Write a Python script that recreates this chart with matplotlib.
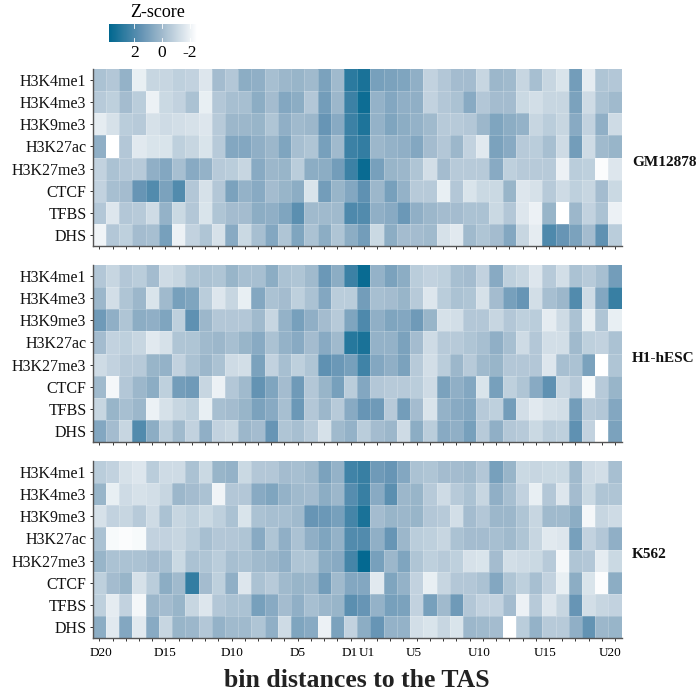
import numpy as np
import matplotlib
matplotlib.use("Agg")
import matplotlib.pyplot as plt
from matplotlib.colors import LinearSegmentedColormap, Normalize
from matplotlib.cm import ScalarMappable
from matplotlib.transforms import ScaledTranslation

plt.rcParams["font.family"] = ["Liberation Serif", "DejaVu Serif"]

marks = ["H3K4me1", "H3K4me3", "H3K9me3", "H3K27ac", "H3K27me3", "CTCF", "TFBS", "DHS"]
cell_lines = ["GM12878", "H1-hESC", "K562"]
bin_labels = ["D20", "D15", "D10", "D5", "D1", "U1", "U5", "U10", "U15", "U20"]
bin_label_cols = [0, 5, 10, 15, 19, 20, 24, 29, 34, 39]

gm12878 = [
    [-.3,-.5,.3,-1.9,-1.0,-1.0,-.8,-.9,-1.6,-.1,-.5,.5,.4,-.2,.1,.2,0,.9,0,2.8,
     3.2,1.0,.9,.8,.4,-.9,-.5,-.1,-.1,-1.0,.1,0,-1.0,-.2,-1.0,-1.5,1.1,-1.8,-.4,-.5],
    [-.6,-.8,-.1,-.7,-2.0,-1.1,-.9,-.3,-1.9,-.5,-.2,-.2,.5,-.1,.7,.5,-.5,1.1,.1,2.4,
     3.5,.3,.7,.4,.4,-.9,-.5,-.3,.6,-.5,-.1,-.1,-1.1,-1.3,-1.0,-1.0,.9,-1.2,-.3,0],
    [-1.8,-1.4,-.7,-.6,-1.4,-1.2,-1.3,-1.4,-1.6,-.6,.1,.1,.2,-.4,.4,0,.1,1.4,.6,2.4,
     3.1,.3,.8,.5,.3,0,-.6,-.6,-.5,.1,.8,.5,.3,-1.0,-.7,-1.0,.6,-.9,.4,-1.2],
    [.4,-2.5,-.5,-1.7,-1.5,-1.5,-.8,-1.0,-1.5,-.6,.7,.7,.4,.1,.8,-.2,-.4,1.0,0,2.4,
     2.6,.1,.3,.4,.7,-.1,-.5,.1,-.9,-1.7,.9,.6,-.6,-.7,-.2,-1.2,1.1,-1.2,0,.2],
    [-.9,-.3,-.5,-.6,.4,.7,-.2,.6,.3,-.6,-.7,-1.0,.6,.1,.2,-.7,.5,.5,1.1,2.4,
     3.6,1.0,.2,.1,-.4,-1.3,-.1,-.6,-.6,-.6,.6,-.8,-.6,-.6,-.6,-2.0,-.7,-.8,-2.4,-1.6],
    [-.9,-.2,-.1,1.4,1.9,.9,1.9,-.5,-1.4,-.5,.9,.3,.6,-.1,.2,.5,-1.5,1.1,.2,.7,
     1.6,.1,1.0,.3,-.6,-.6,-1.9,-.5,-1.5,-1.1,-1.1,.2,-1.6,-1.4,-.6,-1.2,-.8,-1.0,-.1,-1.1],
    [-.5,-1.6,-.5,-.6,-1.2,.3,-1.1,-.5,-1.5,-.4,-.1,-.1,.5,.4,.8,1.7,0,0,0,2.0,
     1.9,.4,.6,1.3,.4,.1,-.1,-.1,-.3,-.3,-1.1,-.5,-1.6,-2.0,.2,-2.5,.1,-.9,-.3,-2.0],
    [-2.1,-.5,-.8,-.1,-.2,1.0,-2.0,-.9,-.4,-1.4,.6,-1.1,-.2,.7,-.4,.8,-.3,.5,-.4,.5,
     1.1,-1.1,.5,-.1,-.1,0,-1.4,-1.7,0,-.4,-.1,.7,-1.0,-1.8,2.0,1.4,.9,-.1,1.6,-.7],
]

h1_hesc = [
    [-.5,-1.0,-.5,-.7,-.1,-1.2,-1.0,-.4,-.3,-.4,.2,-.2,-.2,.5,-.3,-.4,0,1.3,.5,2.4,
     3.6,.3,.9,.5,-.7,-.9,-.8,-.2,-.1,-.9,.6,-.8,-1.0,-1.6,-.6,-1.3,-.3,-.6,-.2,1.1],
    [.1,-1.3,-.4,.1,-1.5,0,1.0,.8,-.7,-1.6,-1.0,-1.9,.7,-.3,-.1,-.8,-.3,.7,-.7,-.7,
     1.1,-.2,-.1,.2,-.6,-1.6,-.7,-.3,-.4,-1.4,-.1,1.0,1.4,-1.3,-.2,.1,1.9,-1.2,.7,2.5],
    [1.2,.4,-.4,.5,.4,.8,-.8,1.6,.1,-.5,-.5,-.5,0,-1.0,.3,1.0,.4,-.1,-.6,.8,
     2.0,.4,.8,.7,1.2,.2,-1.4,-1.3,-.5,-.5,-1.0,-.5,-.8,-.7,-1.8,-1.2,-.3,-1.9,-.4,-1.9],
    [-.1,-.9,-.8,-1.0,-1.7,-1.4,-.4,-.4,0,.1,-.2,.2,.6,-.3,.3,.6,-.1,.6,0,2.9,
     3.2,.3,.3,.9,-.1,-1.2,-.6,-.6,-.4,-.2,.4,-.2,-1.2,-.5,-1.3,-1.3,0,-.8,-.9,-.3],
    [-1.2,-.9,-.6,-.6,.2,.3,-.9,-.3,.1,-.3,-1.2,-1.3,.9,-.9,-.2,-.8,-.4,1.6,1.3,1.0,
     2.3,.7,.4,.9,-.6,-1.3,-.7,.1,-.6,0,.2,-.5,-.5,-.5,-1.6,-.2,-.3,.9,-2.5,-.4],
    [0,-2.2,-.5,.1,.5,-.8,1.1,1.2,-1.0,-2.0,-.5,0,1.5,.8,-.1,1.2,-.5,.2,1.0,-.7,
     .7,-.5,-.6,-.6,-.7,-1.2,.9,.4,.7,-1.5,1.0,-.8,-.4,.6,1.6,-1.0,-.6,-2.3,-.6,.2],
    [-1.0,.2,-.2,.1,-2.0,-1.4,-1.0,-.8,-1.9,-.2,-.1,.2,.9,.6,-.2,1.3,-.5,.1,-.6,.6,
     1.4,1.2,-.6,1.1,-.1,-1.5,.3,.6,.7,-.6,-.8,1.1,-1.3,-1.7,-1.4,-1.3,1.1,-.6,-.5,.7],
    [.7,-.1,-1.0,1.9,.5,-.7,0,-.9,.4,-.9,-1.0,.1,-.1,1.4,-.4,-.2,-.6,-1.4,0,.3,
     -.7,-.1,.1,-1.2,.5,-.7,.6,.4,1.0,-.6,.4,-.5,-.6,-1.1,-.7,-.8,1.6,-.9,-2.5,.9],
]

k562 = [
    [-.7,-.9,-1.4,-1.6,-.7,-1.2,-1.2,-.3,-1.1,.2,.3,-1.1,-.5,-.5,-.1,-.2,0,.9,.3,2.3,
     2.5,1.2,1.4,.7,-.3,-.4,-.1,-.1,0,-.5,1.0,.2,-1.1,-1.0,-1.1,-1.1,0,-1.2,-1.3,-.2],
    [.2,-1.9,-1.2,-1.4,-1.3,-1.0,.1,-.1,-.3,-2.1,-.5,-.5,.6,.8,.3,0,-.1,.5,.1,1.8,
     2.5,.6,1.7,.1,.2,-.6,-1.2,-.6,-.3,-1.0,.4,-.2,-.9,-1.9,-.5,-1.6,-.1,-1.1,-.4,-.4],
    [-1.4,-.9,-1.0,-.6,-1.2,-.3,-1.0,-.8,-1.1,-.8,-.3,-1.5,-.3,-.2,-.2,0,1.4,1.3,1.0,2.2,
     3.2,-.1,.2,.1,.2,-.5,-.6,-1.3,-.1,-.5,.1,.1,-.4,-1.0,0,0,.5,-2.2,-1.0,-1.2],
    [-.3,-2.3,-2.4,-2.3,-.9,-.9,-1.0,-.7,-.2,-.5,-.5,-.4,.6,-.4,.4,-.3,.4,.8,.3,1.9,
     1.9,.4,1.4,.1,-.7,-.8,-1.0,-.3,-.1,-.1,-.2,0,-.4,-1.0,-1.7,-1.6,1.0,-.9,-.5,.4],
    [.2,-.3,-.3,-.3,-.1,-.2,-1.1,-.3,-.4,-.7,-.2,-.3,0,.1,.4,-.4,-.4,.5,.6,2.2,
     3.7,1.0,.1,.8,-.4,-.8,-.6,-.8,-1.4,-1.5,-.1,-1.3,-1.2,-1.1,-.6,-2.2,-.4,-.5,-1.8,-1.1],
    [-.8,-.1,.2,-1.4,-.7,.5,0,2.6,-.1,-.8,.4,-1.6,-.3,-.6,0,.2,.1,1.1,0,.7,
     .7,-1.7,.8,.3,-.9,-1.9,-1.0,-.5,-.5,-.3,.7,-.4,-.8,-.2,-.9,-1.9,.5,-1.5,-2.4,.5],
    [-.8,-1.8,-.9,-2.2,.1,-.1,.2,-1.0,-1.6,-.5,-.3,-.3,1.0,.6,-.1,.4,-.2,.1,.2,1.7,
     1.4,.3,1.0,.9,-.9,1.0,0,1.2,-.5,-.9,-.9,-.1,-2.0,-.6,-1.6,-1.0,1.4,-1.3,-1.0,-.9],
    [.5,-1.7,.7,-1.7,.6,-1.0,.2,.1,-.5,.3,0,0,-.4,.4,-1.2,.8,.6,-2.0,.9,-.9,
     .5,1.4,.3,.3,-1.3,-1.5,-1.0,-1.5,.1,0,-.1,-2.5,-.7,.3,-.6,-.6,.4,1.5,.1,.2],
]

panels = [gm12878, h1_hesc, k562]
panel_tops = [69, 265, 461]

W, H = 700, 692
zmin, zmax = -2.5, 3.8
cmap = LinearSegmentedColormap.from_list(
    "zscore",
    [(0, "#ffffff"), (0.4, "#9fb9cc"), (0.64, "#6292b3"), (1, "#00678f")],
)
norm = Normalize(zmin, zmax)


def box(x, y, w, h):
    return [x / W, 1 - (y + h) / H, w / W, h / H]


fig = plt.figure(figsize=(7, 6.92), dpi=100)

for data, line, top in zip(panels, cell_lines, panel_tops):
    ax = fig.add_axes(box(92.7, top, 529, 177))
    ax.pcolormesh(np.array(data), cmap=cmap, norm=norm, linewidth=0)
    # faint cell borders
    ax.vlines(np.arange(1, 40), 0, 8, color="white", lw=0.7, alpha=0.2)
    ax.hlines(np.arange(1, 8), 0, 40, color="white", lw=0.7, alpha=0.2)
    ax.set_ylim(8, 0)
    ax.set_xlim(0, 40)
    ax.set_yticks(np.arange(8) + 0.5, marks, fontsize=11.5, color="#111111")
    ax.set_xticks(np.arange(40) + 0.5, [])
    ax.tick_params(length=2.5, width=0.7, color="#333333", pad=2)
    for s in ["top", "right"]:
        ax.spines[s].set_visible(False)
    for s in ["left", "bottom"]:
        ax.spines[s].set_color("#555555")
        ax.spines[s].set_linewidth(1.0)
    ax.text(632 / W, 1 - (top + 94) / H, line, transform=fig.transFigure, fontsize=11,
            fontweight="bold", va="center", ha="left", color="#111111")

# labels in the reference sit slightly off their ticks
label_shift = [2, 0, 0, 0, -1, 3, -3, -4, -4, -5]
ax.set_xticks(np.arange(40) + 0.5,
              [bin_labels[bin_label_cols.index(i)] if i in bin_label_cols else "" for i in range(40)],
              fontsize=9.5)
ax.tick_params(axis="x", pad=4)
for col, dx in zip(bin_label_cols, label_shift):
    lab = ax.get_xticklabels()[col]
    lab.set_transform(lab.get_transform() + ScaledTranslation(dx / 100, 0, fig.dpi_scale_trans))
ax.set_xlabel("bin distances to the TAS", fontsize=18.5, fontweight="bold", color="#222222", labelpad=7)

cax = fig.add_axes(box(109, 24, 88, 18))
cb = fig.colorbar(ScalarMappable(norm=norm, cmap=cmap), cax=cax, orientation="horizontal")
cax.invert_xaxis()
cb.set_ticks([2, 0, -2], labels=["2", "0", "-2"])
cb.outline.set_visible(False)
cax.tick_params(axis="x", length=0, labelsize=12.5, pad=2)
for v in [2, 0, -2]:
    cax.plot([v, v], [0, 0.2], color="white", lw=0.6)
    cax.plot([v, v], [0.8, 1], color="white", lw=0.6)
cax.set_ylim(0, 1)
cax.set_title("Z-score", fontsize=13, pad=5, x=0.55)

fig.savefig("out.png", dpi=100)
